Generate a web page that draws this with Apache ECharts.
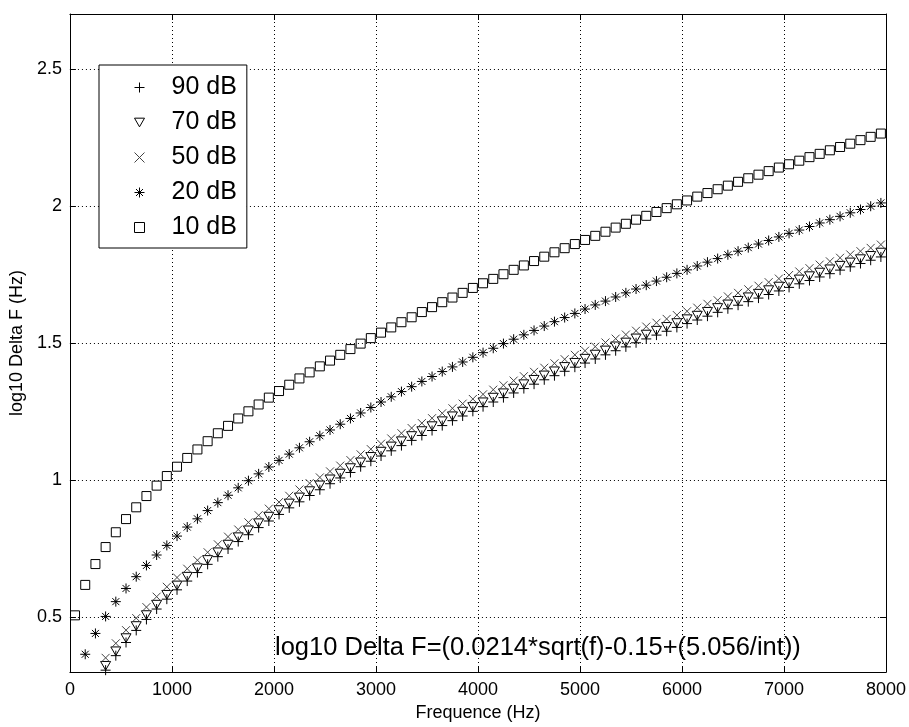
<!DOCTYPE html>
<html>
<head>
<meta charset="utf-8">
<script src="https://cdn.jsdelivr.net/npm/echarts@6/dist/echarts.min.js"></script>
<style>
html,body{margin:0;padding:0;background:#fff;}
#chart{width:909px;height:727px;}
</style>
</head>
<body>
<div id="chart"></div>
<script>
var freq = [50,150,250,350,450,550,650,750,850,950,1050,1150,1250,1350,1450,1550,1650,1750,1850,1950,2050,2150,2250,2350,2450,2550,2650,2750,2850,2950,3050,3150,3250,3350,3450,3550,3650,3750,3850,3950,4050,4150,4250,4350,4450,4550,4650,4750,4850,4950,5050,5150,5250,5350,5450,5550,5650,5750,5850,5950,6050,6150,6250,6350,6450,6550,6650,6750,6850,6950,7050,7150,7250,7350,7450,7550,7650,7750,7850,7950];

var db90 = [0.058,0.168,0.245,0.307,0.360,0.408,0.452,0.492,0.530,0.566,0.600,0.632,0.663,0.693,0.721,0.749,0.776,0.801,0.827,0.851,0.875,0.899,0.921,0.944,0.965,0.987,1.008,1.028,1.049,1.069,1.088,1.107,1.126,1.145,1.163,1.181,1.199,1.217,1.234,1.251,1.268,1.285,1.301,1.318,1.334,1.350,1.366,1.381,1.397,1.412,1.427,1.442,1.457,1.472,1.486,1.501,1.515,1.529,1.543,1.557,1.571,1.584,1.598,1.612,1.625,1.638,1.651,1.664,1.677,1.690,1.703,1.716,1.728,1.741,1.753,1.766,1.778,1.790,1.802,1.814];

var db70 = [0.074,0.184,0.261,0.323,0.376,0.424,0.468,0.508,0.546,0.582,0.616,0.648,0.679,0.709,0.737,0.765,0.792,0.817,0.843,0.867,0.891,0.915,0.937,0.960,0.981,1.003,1.024,1.044,1.065,1.085,1.104,1.123,1.142,1.161,1.179,1.197,1.215,1.233,1.250,1.267,1.284,1.301,1.317,1.334,1.350,1.366,1.382,1.397,1.413,1.428,1.443,1.458,1.473,1.488,1.502,1.517,1.531,1.545,1.559,1.573,1.587,1.600,1.614,1.628,1.641,1.654,1.667,1.680,1.693,1.706,1.719,1.732,1.744,1.757,1.769,1.782,1.794,1.806,1.818,1.830];

var db50 = [0.102,0.213,0.290,0.352,0.405,0.453,0.497,0.537,0.575,0.611,0.645,0.677,0.708,0.737,0.766,0.794,0.820,0.846,0.872,0.896,0.920,0.943,0.966,0.989,1.010,1.032,1.053,1.073,1.094,1.113,1.133,1.152,1.171,1.190,1.208,1.226,1.244,1.262,1.279,1.296,1.313,1.330,1.346,1.363,1.379,1.395,1.410,1.426,1.441,1.457,1.472,1.487,1.502,1.516,1.531,1.545,1.560,1.574,1.588,1.602,1.616,1.629,1.643,1.656,1.670,1.683,1.696,1.709,1.722,1.735,1.748,1.761,1.773,1.786,1.798,1.811,1.823,1.835,1.847,1.859];

var db20 = [0.254,0.365,0.441,0.503,0.557,0.605,0.648,0.689,0.727,0.762,0.796,0.829,0.859,0.889,0.918,0.945,0.972,0.998,1.023,1.048,1.072,1.095,1.118,1.140,1.162,1.183,1.204,1.225,1.245,1.265,1.285,1.304,1.323,1.341,1.360,1.378,1.396,1.413,1.431,1.448,1.465,1.481,1.498,1.514,1.530,1.546,1.562,1.578,1.593,1.608,1.624,1.639,1.653,1.668,1.683,1.697,1.711,1.726,1.740,1.754,1.767,1.781,1.795,1.808,1.822,1.835,1.848,1.861,1.874,1.887,1.900,1.912,1.925,1.938,1.950,1.962,1.975,1.987,1.999,2.011];

var db10 = [0.507,0.618,0.694,0.756,0.810,0.858,0.901,0.942,0.980,1.015,1.049,1.081,1.112,1.142,1.171,1.198,1.225,1.251,1.276,1.301,1.325,1.348,1.371,1.393,1.415,1.436,1.457,1.478,1.498,1.518,1.538,1.557,1.576,1.594,1.613,1.631,1.649,1.666,1.683,1.701,1.718,1.734,1.751,1.767,1.783,1.799,1.815,1.831,1.846,1.861,1.876,1.891,1.906,1.921,1.935,1.950,1.964,1.978,1.992,2.006,2.020,2.034,2.047,2.061,2.074,2.088,2.101,2.114,2.127,2.140,2.152,2.165,2.178,2.190,2.203,2.215,2.227,2.240,2.252,2.264];

var seriesNames = ['90 dB','70 dB','50 dB','20 dB','10 dB'];
var yTicks = [0.5, 1, 1.5, 2, 2.5];
var annotation = 'log10 Delta F=(0.0214*sqrt(f)-0.15+(5.056/int))';

var FONT = '"Liberation Sans", Arial, Helvetica, sans-serif';

function pairs(ys){ return freq.map(function(f,i){ return [f, ys[i]]; }); }

var SYM = {
  plus: 'path://M5,0L5,10M0,5L10,5',
  tri: 'path://M0,0L10,0L5,8.66Z',
  cross: 'path://M0,0L10,10M10,0L0,10',
  star: 'path://M5,0L5,10M0,5L10,5M1.5,1.5L8.5,8.5M8.5,1.5L1.5,8.5',
  square: 'path://M0,0L10,0L10,10L0,10Z'
};

function mk(name, data, symbol, size, color){
  return {
    name: name, type: 'scatter', data: pairs(data),
    symbol: symbol, symbolSize: size, symbolKeepAspect: true,
    itemStyle: { color: 'none', borderColor: color, borderWidth: 1, opacity: 1 },
    emphasis: { disabled: true },
    silent: true,
    clip: true,
    xAxisIndex: 0, yAxisIndex: 0,
    z: 3
  };
}

var chart = echarts.init(document.getElementById('chart'), null, {renderer: 'canvas'});

var axisLineStyle = { color: '#000', width: 1 };

chart.setOption({
  animation: false,
  backgroundColor: '#fff',
  textStyle: { fontFamily: FONT },
  grid: { left: 67, right: 18, top: 14, bottom: 52, containLabel: false },
  legend: {
    data: seriesNames,
    orient: 'vertical',
    left: 99, top: 65,
    padding: [10, 10, 8, 33],
    itemGap: 10,
    itemWidth: 10, itemHeight: 10,
    borderColor: '#000', borderWidth: 1,
    backgroundColor: '#fff',
    borderRadius: 0,
    selectedMode: false,
    itemStyle: { borderWidth: 1 },
    textStyle: { fontSize: 25, color: '#000', fontFamily: FONT, padding: [0, 0, 0, 22] },
    z: 10
  },
  xAxis: [{
    type: 'value', min: 0, max: 8000, interval: 1000,
    name: 'Frequence (Hz)', nameLocation: 'middle', nameGap: 28,
    nameTextStyle: { fontSize: 18, color: '#000', fontFamily: FONT },
    axisLine: { onZero: false, lineStyle: axisLineStyle },
    axisTick: { inside: true, length: 6, lineStyle: { color: '#000' } },
    axisLabel: { fontSize: 18, color: '#000', margin: 9, fontFamily: FONT, formatter: function(v){ return String(v); } },
    splitLine: { show: true, lineStyle: { color: '#000', type: [1, 3], width: 1 } }
  }, {
    type: 'value', min: 0, max: 8000, interval: 1000, position: 'top',
    axisLine: { onZero: false, lineStyle: axisLineStyle },
    axisTick: { inside: true, length: 6, lineStyle: { color: '#000' } },
    axisLabel: { show: false },
    splitLine: { show: false }
  }],
  yAxis: [{
    type: 'value', min: 0.3, max: 2.7,
    name: 'log10 Delta F (Hz)', nameLocation: 'middle', nameGap: 36,
    nameTextStyle: { fontSize: 18, color: '#000', fontFamily: FONT },
    axisLine: { onZero: false, lineStyle: axisLineStyle },
    axisTick: { inside: true, length: 6, lineStyle: { color: '#000' }, customValues: yTicks },
    axisLabel: { fontSize: 18, color: '#000', margin: 8, fontFamily: FONT, customValues: yTicks },
    splitLine: { show: true, lineStyle: { color: '#000', type: [1, 3], width: 1 } }
  }, {
    type: 'value', min: 0.3, max: 2.7, position: 'right',
    axisLine: { onZero: false, lineStyle: axisLineStyle },
    axisTick: { inside: true, length: 6, lineStyle: { color: '#000' }, customValues: yTicks },
    axisLabel: { show: false, customValues: yTicks },
    splitLine: { show: false }
  }],
  graphic: [{
    type: 'text', left: 275, top: 635, z: 5,
    style: { text: annotation, fontSize: 25.5, fill: '#000', fontFamily: FONT }
  }],
  series: [
    mk(seriesNames[0], db90, SYM.plus, 10, '#000'),
    mk(seriesNames[1], db70, SYM.tri, 10, '#000'),
    mk(seriesNames[2], db50, SYM.cross, 8, '#444'),
    mk(seriesNames[3], db20, SYM.star, 10, '#000'),
    mk(seriesNames[4], db10, SYM.square, 9, '#000')
  ]
});
</script>
</body>
</html>
